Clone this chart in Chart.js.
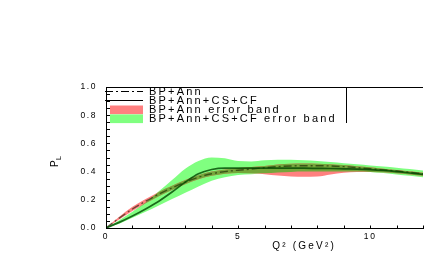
<!DOCTYPE html>
<html>
<head>
<meta charset="utf-8">
<script src="https://cdn.jsdelivr.net/npm/chart.js@4.4.0/dist/chart.umd.min.js"></script>
<style>
  html, body { margin: 0; padding: 0; background: #fff; }
</style>
</head>
<body>
<canvas id="plChart" width="427" height="262"></canvas>
<script>
// Q^2 grid (GeV^2) shared by every curve
const q2 = [0, 0.5, 1, 1.5, 2, 2.5, 3, 3.5, 4, 4.5, 5, 5.5, 6, 6.5, 7, 7.5, 8, 8.5, 9, 9.5, 10, 10.5, 11, 11.5, 12];

// central curves
const bpAnn = [0, 0.07, 0.135, 0.19, 0.24, 0.285, 0.325, 0.36, 0.385, 0.40, 0.41, 0.418, 0.427, 0.435, 0.44, 0.442, 0.442, 0.44, 0.435, 0.428, 0.42, 0.412, 0.404, 0.395, 0.385];
const bpAnnCsCf = [0, 0.04, 0.085, 0.135, 0.19, 0.255, 0.325, 0.385, 0.415, 0.425, 0.425, 0.425, 0.425, 0.425, 0.424, 0.424, 0.423, 0.422, 0.42, 0.418, 0.414, 0.408, 0.4, 0.39, 0.38];

// error bands
const bpAnnHigh = [0, 0.08, 0.15, 0.205, 0.255, 0.3, 0.34, 0.375, 0.4, 0.415, 0.425, 0.432, 0.44, 0.45, 0.455, 0.457, 0.456, 0.452, 0.446, 0.438, 0.43, 0.421, 0.412, 0.402, 0.392];
const bpAnnLow = [0, 0.06, 0.12, 0.175, 0.225, 0.27, 0.31, 0.345, 0.37, 0.385, 0.39, 0.388, 0.382, 0.372, 0.366, 0.364, 0.365, 0.38, 0.392, 0.397, 0.398, 0.395, 0.388, 0.38, 0.37];
const fullHigh = [0, 0.055, 0.115, 0.18, 0.26, 0.34, 0.42, 0.475, 0.5, 0.495, 0.475, 0.472, 0.48, 0.484, 0.484, 0.48, 0.475, 0.468, 0.46, 0.452, 0.444, 0.436, 0.428, 0.418, 0.408];
const fullLow = [0, 0.03, 0.072, 0.115, 0.16, 0.205, 0.25, 0.295, 0.335, 0.36, 0.376, 0.382, 0.388, 0.394, 0.398, 0.4, 0.4, 0.4, 0.4, 0.4, 0.398, 0.39, 0.38, 0.37, 0.36];

const seriesLabels = ["BP+Ann", "BP+Ann+CS+CF", "BP+Ann error band", "BP+Ann+CS+CF error band"];

const FONT = "'Liberation Sans', Arial, Helvetica, sans-serif";
const RED = "#ff8080";
const GREEN = "#80ff80";
const OLIVE = "#74a63a";

function toXY(values) {
    return q2.map((x, i) => ({ x: x, y: values[i] }));
}

// where the two bands overlap the original shows a darker olive
const overlapHigh = q2.map((_, i) => Math.min(bpAnnHigh[i], fullHigh[i]));
const overlapLow = q2.map((_, i) => Math.min(Math.max(bpAnnLow[i], fullLow[i]), overlapHigh[i]));

function band(values, color, target) {
    return {
        data: toXY(values),
        borderWidth: 0,
        borderColor: "transparent",
        backgroundColor: color,
        pointRadius: 0,
        fill: target === undefined ? false : target
    };
}

const datasets = [
    {
        label: seriesLabels[1],
        data: toXY(bpAnnCsCf),
        borderColor: "rgba(0, 70, 0, 0.8)",
        borderWidth: 1.7,
        pointRadius: 0,
        fill: false
    },
    {
        label: seriesLabels[0],
        data: toXY(bpAnn),
        borderColor: "rgba(20, 30, 0, 0.6)",
        borderWidth: 1.4,
        borderDash: [8, 3, 2, 3],
        pointRadius: 0,
        fill: false
    },
    band(overlapHigh, OLIVE, 3),
    band(overlapLow, OLIVE),
    band(bpAnnHigh, RED, 5),
    band(bpAnnLow, RED),
    band(fullHigh, GREEN, 7),
    band(fullLow, GREEN)
];

// legend drawn inside the plot area, top left, like the original
const legendBox = {
    id: "legendBox",
    afterDraw(chart) {
        const ctx = chart.ctx;
        const area = chart.chartArea;
        const left = area.left;
        const top = area.top;
        ctx.save();
        ctx.strokeStyle = "#000";
        ctx.lineWidth = 1;
        ctx.beginPath();
        ctx.moveTo(346.5, top);
        ctx.lineTo(346.5, top + 36);
        ctx.stroke();

        ctx.beginPath();
        ctx.setLineDash([8, 3, 2, 3]);
        ctx.moveTo(left - 1, top + 4.5);
        ctx.lineTo(left + 37, top + 4.5);
        ctx.stroke();
        ctx.setLineDash([]);
        ctx.beginPath();
        ctx.moveTo(left - 1, top + 13.5);
        ctx.lineTo(left + 37, top + 13.5);
        ctx.stroke();

        ctx.fillStyle = RED;
        ctx.fillRect(left + 4, top + 18.5, 33, 8.7);
        ctx.fillStyle = GREEN;
        ctx.fillRect(left + 4, top + 27.4, 33, 8.7);

        ctx.fillStyle = "#000";
        ctx.font = "11px " + FONT;
        ctx.letterSpacing = "2.2px";
        ctx.textBaseline = "middle";
        ctx.textAlign = "left";
        const rows = [4.5, 13.5, 23, 32];
        seriesLabels.forEach((text, i) => {
            ctx.fillText(text, left + 43, top + rows[i]);
        });
        ctx.restore();
    }
};

// inward ticks, top frame line and axis titles
const frameAndTitles = {
    id: "frameAndTitles",
    beforeDraw(chart) {
        chart.ctx.letterSpacing = "1.6px";
    },
    afterDraw(chart) {
        const ctx = chart.ctx;
        const area = chart.chartArea;
        const xs = chart.scales.x;
        const ys = chart.scales.y;
        ctx.save();
        ctx.strokeStyle = "#000";
        ctx.lineWidth = 1;
        ctx.beginPath();
        ctx.moveTo(area.left, area.top + 0.5);
        ctx.lineTo(area.right, area.top + 0.5);
        ys.ticks.forEach(t => {
            const py = Math.round(ys.getPixelForValue(t.value)) + 0.5;
            ctx.moveTo(area.left, py);
            ctx.lineTo(area.left + 4, py);
        });
        xs.ticks.forEach(t => {
            const px = Math.round(xs.getPixelForValue(t.value)) + 0.5;
            ctx.moveTo(px, area.bottom);
            ctx.lineTo(px, area.bottom - 2.5);
        });
        ctx.stroke();

        ctx.fillStyle = "#000";
        ctx.letterSpacing = "2.2px";
        ctx.textBaseline = "middle";
        ctx.textAlign = "center";
        ctx.font = "10px " + FONT;
        ctx.fillText("Q\u00b2 (GeV\u00b2)", xs.getPixelForValue(7.5), 246.5);

        ctx.translate(55, 167);
        ctx.rotate(-Math.PI / 2);
        ctx.textAlign = "left";
        ctx.font = "10px " + FONT;
        ctx.letterSpacing = "0px";
        ctx.fillText("P", 0, 0);
        ctx.font = "7px " + FONT;
        ctx.fillText("L", 7, 4);
        ctx.restore();
    }
};

const isMultiple = (v, step) => Math.abs(v / step - Math.round(v / step)) < 1e-6;

const plChart = new Chart(document.getElementById("plChart").getContext("2d"), {
    type: "line",
    data: { datasets: datasets },
    options: {
        responsive: false,
        animation: false,
        events: [],
        layout: { padding: { top: 87, right: 2, left: 0, bottom: 0 } },
        elements: { line: { cubicInterpolationMode: "monotone" } },
        plugins: {
            legend: { display: false },
            tooltip: { enabled: false }
        },
        scales: {
            x: {
                type: "linear",
                min: 0,
                max: 12,
                afterFit(scale) { scale.height = 34; },
                ticks: {
                    stepSize: 1,
                    autoSkip: false,
                    maxRotation: 0,
                    padding: 4,
                    color: "#000",
                    font: { family: FONT, size: 8.5 },
                    callback: v => isMultiple(v, 5) ? String(v) : ""
                },
                grid: { drawOnChartArea: false, drawTicks: false },
                border: { color: "#000", width: 1 }
            },
            y: {
                min: 0,
                max: 1,
                afterFit(scale) { scale.width = 106; },
                ticks: {
                    stepSize: 0.05,
                    autoSkip: false,
                    padding: 9,
                    color: "#000",
                    font: { family: FONT, size: 8.5 },
                    callback: v => isMultiple(v, 0.2) ? v.toFixed(1) : ""
                },
                grid: { drawOnChartArea: false, drawTicks: false },
                border: { color: "#000", width: 1 }
            }
        }
    },
    plugins: [legendBox, frameAndTitles]
});
</script>
</body>
</html>
